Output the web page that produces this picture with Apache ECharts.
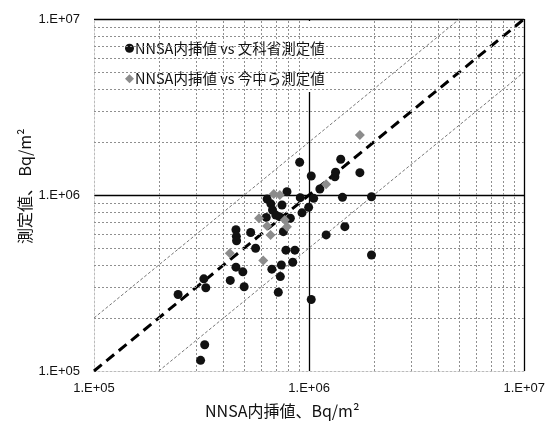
<!DOCTYPE html>
<html><head><meta charset="utf-8">
<script src="https://cdn.jsdelivr.net/npm/echarts@6/dist/echarts.min.js"></script>
<style>html,body{margin:0;padding:0;background:#fff}#c{width:548px;height:428px}</style>
</head><body><div id="c"></div>
<script>
// ---- data ----
const seriesNames = ['NNSA内挿値 vs 文科省測定値', 'NNSA内挿値 vs 今中ら測定値'];
// NNSA interpolated value (x) vs MEXT measured (y), Bq/m2
const mextX = [246000, 324000, 331000, 327000, 313000, 430000, 457000, 459000, 460000, 457000,
  492000, 499000, 535000, 564000, 638000, 664000, 676000, 632000, 700000, 728000,
  748000, 789000, 818000, 759000, 780000, 859000, 839000, 743000, 671000, 735000,
  719000, 904000, 910000, 927000, 995000, 1023000, 1050000, 1122000, 1023000, 1200000,
  1318000, 1327000, 1403000, 1429000, 1466000, 1722000, 1950000, 1950000];
const mextY = [272000, 334000, 297000, 141000, 115000, 327000, 635000, 582000, 550000, 389000,
  366000, 301000, 612000, 498000, 948000, 891000, 822000, 746000, 769000, 753000,
  877000, 1045000, 738000, 619000, 486000, 486000, 415000, 400000, 379000, 344000,
  280000, 1535000, 966000, 792000, 851000, 1282000, 957000, 1081000, 255000, 593000,
  1270000, 1346000, 1596000, 970000, 661000, 1340000, 977000, 456000];
// NNSA interpolated value (x) vs Imanaka et al. measured (y)
const imaX = [428000, 585000, 612000, 638000, 662000, 685000, 731000, 771000, 789000, 1200000, 1722000];
const imaY = [467000, 738000, 424000, 667000, 593000, 1014000, 1000000, 721000, 661000, 1151000, 2193000];
// reference lines (y = x, y = 2x, y = x/2)
const oneToOne = [[1e5, 1e5], [1e7, 1e7]];
const upperLine = [[1e5, 2e5], [5e6, 1e7]];
const lowerLine = [[2e5, 1e5], [1e7, 5e6]];
// axis ticks
const tickValues = [1e5, 1e6, 1e7];
const tickLabels = ['1.E+05', '1.E+06', '1.E+07'];
const minorLines = [2e5, 3e5, 4e5, 5e5, 6e5, 7e5, 8e5, 9e5, 2e6, 3e6, 4e6, 5e6, 6e6, 7e6, 8e6, 9e6];
const xTitle = 'NNSA内挿値、Bq/m²';
const yTitle = '測定値、 Bq/m²';

// ---- chart ----
const zip = (a, b) => a.map((v, i) => [v, b[i]]);
const fmt = v => {
  const i = tickValues.findIndex(t => Math.abs(Math.log10(t) - Math.log10(v)) < 1e-6);
  return i >= 0 ? tickLabels[i] : '';
};
const cjk = '"Noto Sans CJK JP", "Noto Sans", sans-serif';
const minorStyle = { color: '#8f8f8f', width: 1, type: [2, 2] };

const axisCommon = {
  type: 'log', logBase: 10, min: 1e5, max: 1e7,
  axisLine: { show: true, lineStyle: { color: '#bbb', width: 1, type: [2, 2] } },
  axisTick: { show: false },
  axisLabel: { formatter: fmt, color: '#111', fontSize: 13, fontFamily: '"Liberation Sans", Arial, sans-serif' },
  splitLine: { show: true, showMinLine: false, lineStyle: { color: '#000', width: 1.3 } },
  minorTick: { show: false }, minorSplitLine: { show: false }
};

const chart = echarts.init(document.getElementById('c'), null, { renderer: 'canvas' });
chart.setOption({
  animation: false,
  backgroundColor: '#fff',
  grid: { left: 94, right: 21, top: 19, bottom: 57, containLabel: false },
  xAxis: Object.assign({}, axisCommon, { axisLabel: Object.assign({}, axisCommon.axisLabel, { margin: 11 }) }),
  yAxis: Object.assign({}, axisCommon, { axisLabel: Object.assign({}, axisCommon.axisLabel, { margin: 14 }) }),
  legend: {
    orient: 'vertical', left: 96, top: 21,
    padding: [20, 20, 6, 29], itemGap: 16, itemWidth: 9, itemHeight: 9,
    backgroundColor: '#fff',
    textStyle: { fontSize: 14.5, color: '#111', fontFamily: cjk, padding: [0, 0, 0, -4] },
    data: [{ name: seriesNames[0], icon: 'circle' }, { name: seriesNames[1], icon: 'diamond' }],
    selectedMode: false
  },
  graphic: [
    { type: 'text', left: 205, top: 403, style: { text: xTitle, fontSize: 16, fill: '#111', fontFamily: cjk } },
    { type: 'text', x: 17, y: 244, rotation: Math.PI / 2, style: { text: yTitle, fontSize: 16, fill: '#111', fontFamily: cjk } }
  ],
  series: [
    {
      name: 'minor', type: 'line', data: [], silent: true, z: 1,
      markLine: {
        silent: true, symbol: ['none', 'none'], label: { show: false },
        lineStyle: minorStyle, animation: false,
        data: minorLines.map(v => ({ xAxis: v })).concat(minorLines.map(v => ({ yAxis: v })))
      }
    },
    { name: 'upper', type: 'line', data: upperLine, symbol: 'none', silent: true, z: 2,
      lineStyle: { color: '#777', width: 1, type: [3, 2] } },
    { name: 'lower', type: 'line', data: lowerLine, symbol: 'none', silent: true, z: 2,
      lineStyle: { color: '#777', width: 1, type: [3, 2] } },
    { name: 'oneToOne', type: 'line', data: oneToOne, symbol: 'none', silent: true, z: 3,
      lineStyle: { color: '#000', width: 3, type: [10, 6] } },
    { name: seriesNames[0], type: 'scatter', data: zip(mextX, mextY), symbol: 'circle', symbolSize: 9, z: 5,
      itemStyle: { color: '#111', opacity: 1 } },
    { name: seriesNames[1], type: 'scatter', data: zip(imaX, imaY), symbol: 'diamond', symbolSize: 10, z: 6,
      itemStyle: { color: '#8c8c8c', opacity: 1 } }
  ]
});
</script></body></html>
